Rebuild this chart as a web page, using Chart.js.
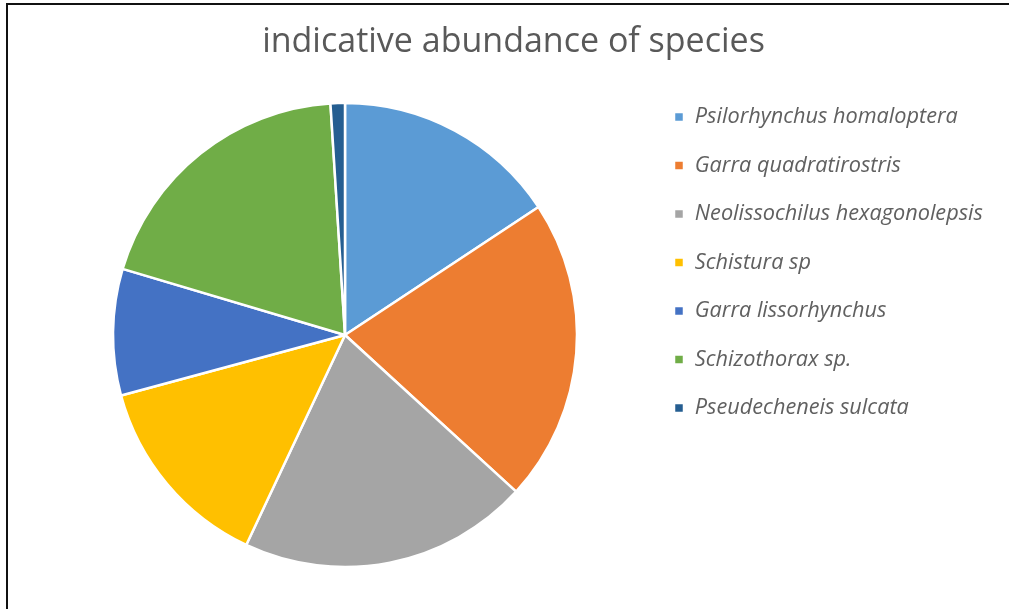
<!DOCTYPE html>
<html>
<head>
<meta charset="utf-8">
<script src="https://cdn.jsdelivr.net/npm/chart.js@4.4.1/dist/chart.umd.min.js"></script>
<style>
  html, body { margin: 0; padding: 0; background: #fff; overflow: hidden; }
  #frame {
    position: absolute; left: 6px; top: 3px; width: 1010px; height: 610px;
    border-left: 2px solid #111; border-top: 2px solid #111;
  }
  #wrap { position: absolute; left: 0; top: 0; width: 1009px; height: 609px; }
</style>
</head>
<body>
<div id="frame"></div>
<div id="wrap"><canvas id="pie" width="1009" height="609"></canvas></div>
<script>
// Species recorded and their indicative abundance (percent of total catch)
const species = [
  'Psilorhynchus homaloptera',
  'Garra quadratirostris',
  'Neolissochilus hexagonolepsis',
  'Schistura sp',
  'Garra lissorhynchus',
  'Schizothorax sp.',
  'Pseudecheneis sulcata'
];
const abundance = [15.7, 21.1, 20.2, 13.8, 8.8, 19.4, 1.0];
const sliceColors = ['#5B9BD5', '#ED7D31', '#A5A5A5', '#FFC000', '#4472C4', '#70AD47', '#255E91'];

new Chart(document.getElementById('pie'), {
  type: 'pie',
  data: {
    labels: species,
    datasets: [{
      data: abundance,
      backgroundColor: sliceColors,
      borderColor: '#ffffff',
      borderWidth: 2.5,
      radius: 232
    }]
  },
  options: {
    responsive: false,
    animation: false,
    events: [],
    layout: { padding: { left: 42.8, right: 24.8, top: 0, bottom: 18.35 } },
    plugins: {
      title: {
        display: true,
        text: 'indicative abundance of species',
        color: '#595959',
        font: { family: "'Open Sans', sans-serif", size: 34, weight: 'normal', lineHeight: 1.2 },
        padding: { top: 22, bottom: 16.55 }
      },
      legend: {
        position: 'right',
        align: 'start',
        fullSize: false,
        maxWidth: 337,
        labels: {
          boxWidth: 10,
          boxHeight: 10,
          padding: 26.8,
          color: '#606060',
          font: { family: "'Open Sans', sans-serif", size: 21.7, style: 'italic' }
        }
      },
      tooltip: { enabled: false }
    }
  }
});
</script>
</body>
</html>
